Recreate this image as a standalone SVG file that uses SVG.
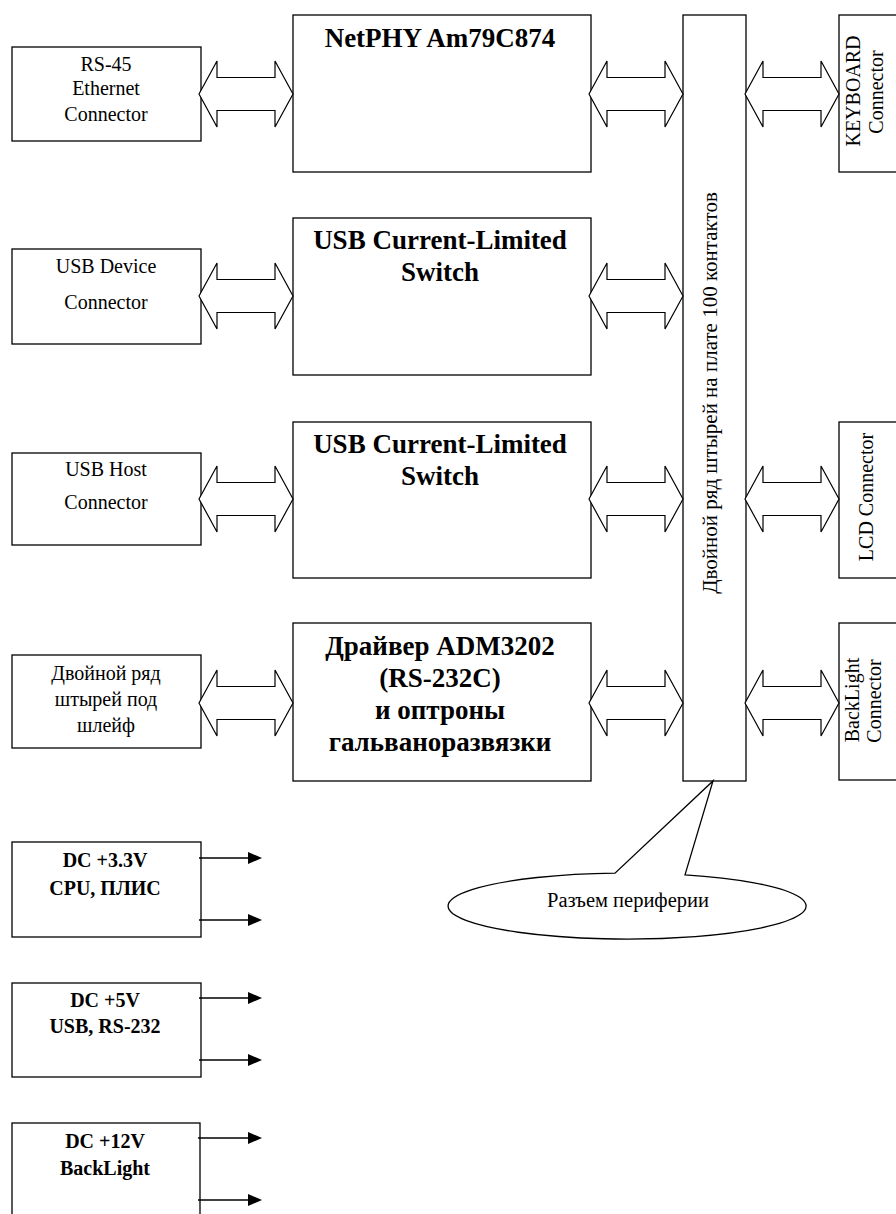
<svg xmlns="http://www.w3.org/2000/svg" width="896" height="1214" viewBox="0 0 896 1214">
<style>
.box{fill:#fff;stroke:#000;stroke-width:1.3}
.dbl{fill:#fff;stroke:#000;stroke-width:1.2;stroke-linejoin:miter}
.ln{stroke:#000;stroke-width:1.3;fill:none}
.t{font-family:"Liberation Serif","Times New Roman",serif;fill:#000;text-anchor:middle}
.r20{font-size:20px}
.h{font-size:27px;font-weight:bold}
.p{font-size:20px;font-weight:bold}
</style>
<defs>
<path id="dbl" class="dbl" d="M0,0 L18,-33 L18,-16.5 L76,-16.5 L76,-33 L94,0 L76,33 L76,16.5 L18,16.5 L18,33 Z"/>
<marker id="ah" viewBox="0 0 14 12" refX="0" refY="6" markerWidth="14" markerHeight="12" markerUnits="userSpaceOnUse" orient="auto">
<path d="M0,0 L14,6 L0,12 Z" fill="#000"/>
</marker>
</defs>
<rect width="896" height="1214" fill="#fff"/>

<g id="rs45">
<rect class="box" x="12" y="47" width="189" height="94"/>
<text class="t r20" x="106" y="71">RS-45</text>
<text class="t r20" x="106" y="95">Ethernet</text>
<text class="t r20" x="106" y="121">Connector</text>
</g>
<g id="usbdev">
<rect class="box" x="12" y="249" width="189" height="95"/>
<text class="t r20" x="106" y="273">USB Device</text>
<text class="t r20" x="106" y="309">Connector</text>
</g>
<g id="usbhost">
<rect class="box" x="12" y="453" width="189" height="92"/>
<text class="t r20" x="106" y="476">USB Host</text>
<text class="t r20" x="106" y="509">Connector</text>
</g>
<g id="pins">
<rect class="box" x="12" y="655" width="189" height="93"/>
<text class="t r20" x="106" y="680">Двойной ряд</text>
<text class="t r20" x="106" y="706">штырей под</text>
<text class="t r20" x="106" y="732">шлейф</text>
</g>

<g id="netphy">
<rect class="box" x="293" y="15" width="298" height="157"/>
<text class="t h" x="440" y="47">NetPHY Am79C874</text>
</g>
<g id="sw1">
<rect class="box" x="293" y="218" width="298" height="157"/>
<text class="t h" x="440" y="249">USB Current-Limited</text>
<text class="t h" x="440" y="281">Switch</text>
</g>
<g id="sw2">
<rect class="box" x="293" y="422" width="298" height="156"/>
<text class="t h" x="440" y="453">USB Current-Limited</text>
<text class="t h" x="440" y="485">Switch</text>
</g>
<g id="driver">
<rect class="box" x="293" y="623" width="298" height="158"/>
<text class="t h" x="440" y="655">Драйвер ADM3202</text>
<text class="t h" x="440" y="687">(RS-232C)</text>
<text class="t h" x="440" y="719">и оптроны</text>
<text class="t h" x="440" y="751">гальваноразвязки</text>
</g>

<g id="bus">
<rect class="box" x="683" y="15" width="63" height="766"/>
<text class="t" style="font-size:21px" transform="translate(717,393) rotate(-90)">Двойной ряд штырей на плате 100 контактов</text>
</g>

<g id="keyboard">
<rect class="box" x="839" y="15" width="70" height="157"/>
<text class="t r20" transform="translate(860,91) rotate(-90)">KEYBOARD</text>
<text class="t r20" transform="translate(883,92) rotate(-90)">Connector</text>
</g>
<g id="lcd">
<rect class="box" x="839" y="422" width="70" height="156"/>
<text class="t r20" transform="translate(873,497) rotate(-90)">LCD Connector</text>
</g>
<g id="backlight">
<rect class="box" x="839" y="623" width="70" height="157"/>
<text class="t r20" transform="translate(859,700) rotate(-90)">BackLight</text>
<text class="t r20" transform="translate(881,701) rotate(-90)">Connector</text>
</g>

<g id="callout">
<path class="box" d="M685,874.8 A179,33 0 1,1 615,873.1 L713,781 Z"/>
<text class="t" style="font-size:20.5px" x="628" y="907">Разъем периферии</text>
</g>

<g id="pwr33">
<rect class="box" x="12" y="842" width="189" height="95"/>
<text class="t p" x="105" y="867">DC +3.3V</text>
<text class="t p" x="105" y="895">CPU, ПЛИС</text>
</g>
<g id="pwr5">
<rect class="box" x="12" y="983" width="189" height="94"/>
<text class="t p" x="105" y="1007">DC +5V</text>
<text class="t p" x="105" y="1033">USB, RS-232</text>
</g>
<g id="pwr12">
<rect class="box" x="12" y="1123" width="188" height="100"/>
<text class="t p" x="105" y="1148">DC +12V</text>
<text class="t p" x="105" y="1175">BackLight</text>
</g>

<g id="connectors">
<use href="#dbl" x="199" y="94"/>
<use href="#dbl" x="199" y="296"/>
<use href="#dbl" x="199" y="499"/>
<use href="#dbl" x="199" y="703"/>
<use href="#dbl" x="589" y="94"/>
<use href="#dbl" x="589" y="296"/>
<use href="#dbl" x="589" y="499"/>
<use href="#dbl" x="589" y="703"/>
<use href="#dbl" x="745" y="94"/>
<use href="#dbl" x="745" y="499"/>
<use href="#dbl" x="745" y="703"/>
<line class="ln" x1="199" y1="858" x2="248" y2="858" marker-end="url(#ah)"/>
<line class="ln" x1="199" y1="920" x2="248" y2="920" marker-end="url(#ah)"/>
<line class="ln" x1="199" y1="998" x2="248" y2="998" marker-end="url(#ah)"/>
<line class="ln" x1="199" y1="1060" x2="248" y2="1060" marker-end="url(#ah)"/>
<line class="ln" x1="198" y1="1138" x2="248" y2="1138" marker-end="url(#ah)"/>
<line class="ln" x1="198" y1="1200" x2="248" y2="1200" marker-end="url(#ah)"/>
</g>
</svg>
